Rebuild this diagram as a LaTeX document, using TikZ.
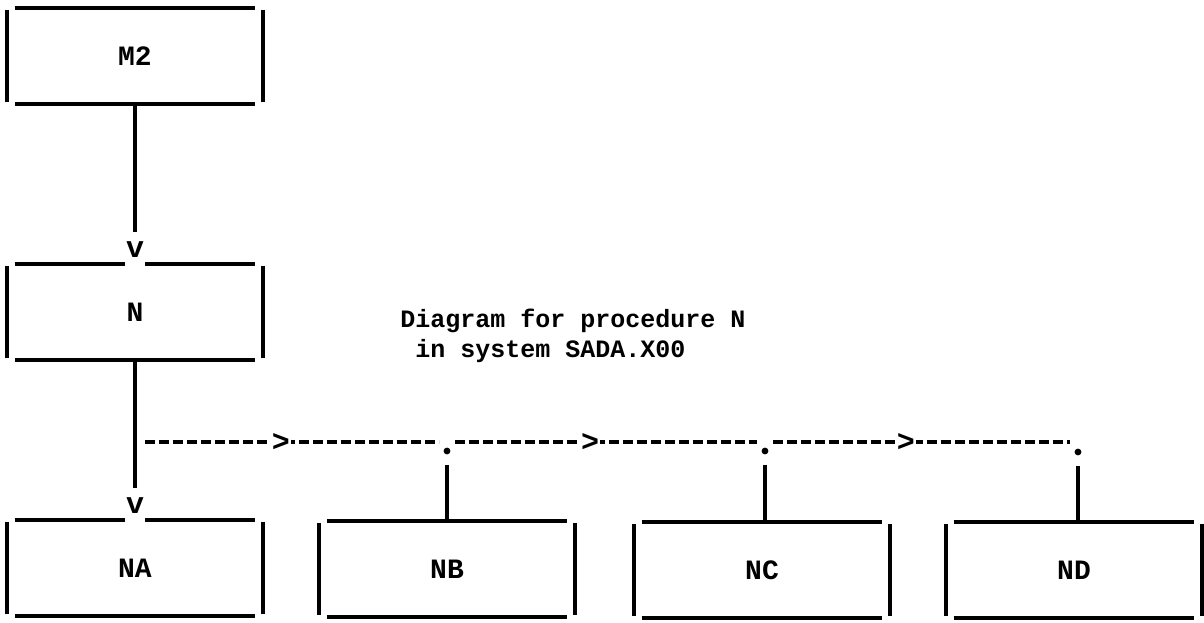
\documentclass[tikz,border=0pt]{standalone}
\usepackage{fontspec}
\newfontfamily\dotfont{Liberation Mono}
\usetikzlibrary{positioning}

\begin{document}
\begin{tikzpicture}[x=0.5pt, y=-0.5pt,
    box/.style={minimum width=128pt, minimum height=48pt, inner sep=0pt, font=\dotfont\bfseries\fontsize{14}{15}\selectfont},
    side/.style={line width=2pt},
    conn/.style={line width=2pt},
    dashln/.style={line width=2pt, dash pattern=on 5pt off 2pt},
    glyph/.style={font=\dotfont\bfseries\fontsize{15}{15}\selectfont, inner sep=0.5pt, fill=white},
    tip/.style={glyph, text depth=4pt},
    dot/.style={circle, fill, inner sep=0pt, minimum size=3.4pt}
]
\useasboundingbox (0,0) rectangle (1204,622);

% procedure boxes
\node[box] (m2) at (135,56) {M2};
\node[box] (n) at (135,312) {N};
\node[box] (na) at (135,568) {NA};
\node[box] (nb) at (447,569) {NB};
\node[box] (nc) at (762,570) {NC};
\node[box] (nd) at (1074,570) {ND};

% sides drawn apart, with open corners
\foreach \b in {m2,n,na,nb,nc,nd}{
  \draw[side] ([xshift=4pt]\b.north west) -- ([xshift=-4pt]\b.north east);
  \draw[side] ([xshift=4pt]\b.south west) -- ([xshift=-4pt]\b.south east);
  \draw[side] ([yshift=-1pt]\b.north west) -- ([yshift=1pt]\b.south west);
  \draw[side] ([yshift=-1pt]\b.north east) -- ([yshift=1pt]\b.south east);
}

\node[anchor=north west, align=left, inner sep=0pt, font=\dotfont\bfseries\fontsize{12.5}{15}\selectfont] (cap) at (400,309)
  {Diagram for procedure N\\\phantom{D}in system SADA.X00};

% calls
\node[tip, anchor=south] (vn) at ([yshift=-1.5pt]n.north) {v};
\node[tip, anchor=south] (va) at ([yshift=-1.5pt]na.north) {v};
\draw[conn, shorten >=4pt] (m2.south) -- (vn.north);
\draw[conn, shorten >=4pt] (n.south) -- (va.north);

\coordinate (s0) at (145,442);
\node[dot] (d1) at (447,451) {};
\node[dot] (d2) at (765,451) {};
\node[dot] (d3) at (1078,452) {};

\draw[dashln, shorten >=4pt] (s0) -- (s0 -| d1) node[glyph, pos=0.45] {>};
\draw[dashln, shorten <=4pt, shorten >=4pt] (s0 -| d1) -- (s0 -| d2) node[glyph, pos=0.45] {>};
\draw[dashln, shorten <=4pt, shorten >=4pt] (s0 -| d2) -- (s0 -| d3) node[glyph, pos=0.45] {>};

\draw[conn, shorten <=5pt] (d1) -- (d1 |- nb.north);
\draw[conn, shorten <=5pt] (d2) -- (d2 |- nc.north);
\draw[conn, shorten <=5pt] (d3) -- (d3 |- nd.north);
\end{tikzpicture}
\end{document}
